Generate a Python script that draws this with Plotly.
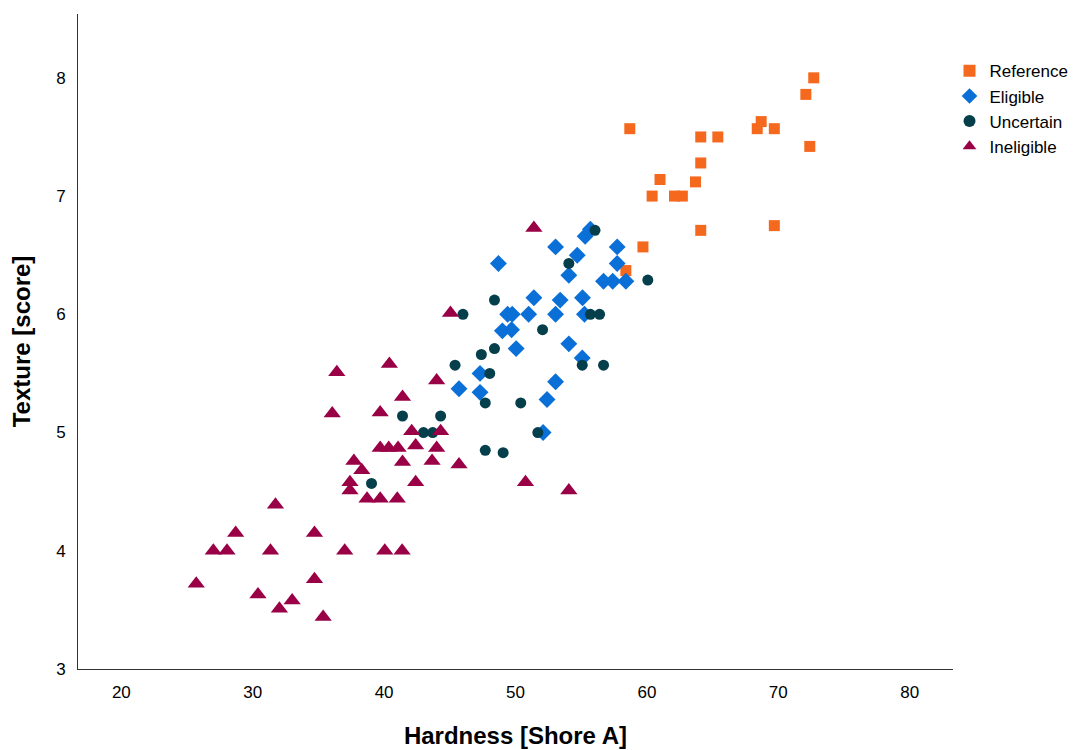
import plotly.graph_objects as go

# Reference (orange squares)
ref_x = [72.7, 72.1, 58.7, 68.7, 68.4, 69.7, 64.1, 65.4, 72.4, 64.1, 61.0, 63.7, 60.4, 62.1, 62.7, 64.1, 69.7, 59.7, 58.4]
ref_y = [8.00, 7.86, 7.57, 7.63, 7.57, 7.57, 7.50, 7.50, 7.42, 7.28, 7.14, 7.12, 7.00, 7.00, 7.00, 6.71, 6.75, 6.57, 6.37]

# Eligible (blue diamonds)
eli_x = [55.7, 55.3, 53.05, 57.74, 54.7, 48.7, 57.74, 54.06, 56.7, 57.4, 58.4, 51.4, 53.4, 55.1,
         49.4, 49.75, 51.0, 53.05, 55.25, 49.0, 49.7, 50.05, 54.06, 55.08, 47.3, 45.7, 47.3, 53.05, 52.4, 52.1]
eli_y = [6.72, 6.66, 6.57, 6.57, 6.50, 6.43, 6.43, 6.33, 6.28, 6.28, 6.28, 6.14, 6.12, 6.14,
         6.00, 6.00, 6.00, 6.00, 6.00, 5.86, 5.87, 5.71, 5.75, 5.63, 5.50, 5.37, 5.34, 5.43, 5.28, 5.00]

# Uncertain (dark circles)
unc_x = [56.05, 54.06, 60.07, 48.4, 46.0, 55.7, 56.4, 52.06, 48.4, 47.4, 45.4, 55.08, 56.7, 48.04,
         47.7, 50.4, 44.3, 41.4, 43.0, 43.7, 51.7, 47.7, 49.06, 39.04]
unc_y = [6.71, 6.43, 6.29, 6.12, 6.00, 6.00, 6.00, 5.87, 5.71, 5.66, 5.57, 5.57, 5.57, 5.50,
         5.25, 5.25, 5.14, 5.14, 5.00, 5.00, 5.00, 4.85, 4.83, 4.57]

# Ineligible (maroon triangles)
ine_x = [51.4, 45.05, 44.0, 44.3, 44.0, 43.65, 45.7, 36.4, 40.4, 41.4, 36.05, 39.7, 42.1,
         39.7, 40.35, 41.06, 42.4, 37.7, 41.4, 38.3, 37.4, 37.4, 42.4, 38.7, 39.7, 41.0,
         50.76, 54.06, 31.73, 28.7, 34.7, 27.0, 28.04, 31.35, 37.0, 40.05, 41.37,
         25.7, 34.7, 30.4, 33.0, 32.03, 35.36]
ine_y = [6.73, 6.01, 5.44, 5.01, 4.87, 4.76, 4.73, 5.51, 5.58, 5.30, 5.16, 5.17, 5.01,
         4.87, 4.87, 4.87, 4.89, 4.76, 4.75, 4.68, 4.58, 4.51, 4.58, 4.44, 4.44, 4.44,
         4.58, 4.51, 4.39, 4.15, 4.15, 4.00, 4.00, 4.00, 4.00, 4.00, 4.00,
         3.72, 3.76, 3.63, 3.58, 3.51, 3.44]

x_ticks = [20, 30, 40, 50, 60, 70, 80]
y_ticks = [3, 4, 5, 6, 7, 8]

fig = go.Figure()
fig.add_trace(go.Scatter(x=ref_x, y=ref_y, mode="markers", name="Reference",
                         marker=dict(symbol="square", size=11, color="#F5691F")))
fig.add_trace(go.Scatter(x=eli_x, y=eli_y, mode="markers", name="Eligible",
                         marker=dict(symbol="diamond", size=13, color="#0A70D8")))
fig.add_trace(go.Scatter(x=unc_x, y=unc_y, mode="markers", name="Uncertain",
                         marker=dict(symbol="circle", size=11, color="#053F4B")))
fig.add_trace(go.Scatter(x=ine_x, y=ine_y, mode="markers", name="Ineligible",
                         marker=dict(symbol="triangle-up", size=15, color="#9A0046")))

fig.update_layout(
    width=1071, height=742,
    margin=dict(l=70, r=126, t=6, b=81, autoexpand=False),
    paper_bgcolor="white", plot_bgcolor="white",
    font=dict(family="Liberation Sans, Arial, sans-serif", color="black"),
    showlegend=True,
    legend=dict(x=0.996, y=0.94, xanchor="left", yanchor="top",
                font=dict(size=17, family="Liberation Sans, Arial, sans-serif"),
                bgcolor="rgba(0,0,0,0)", itemsizing="constant", tracegroupgap=0),
)
fig.update_xaxes(
    range=[16.7, 83.3], tickvals=x_ticks, ticktext=[str(v) for v in x_ticks],
    showgrid=False, zeroline=False, showline=True, linecolor="#333333", linewidth=1,
    ticks="", tickfont=dict(size=17, family="Liberation Sans Narrow, Arial Narrow, Liberation Sans, sans-serif"),
    ticklabelstandoff=8, automargin=False,
    title=dict(text="<b>Hardness [Shore A]</b>", font=dict(size=24), standoff=25),
)
fig.update_yaxes(
    range=[3, 8.54], tickvals=y_ticks, ticktext=[str(v) for v in y_ticks],
    showgrid=False, zeroline=False, showline=True, linecolor="#333333", linewidth=1,
    ticks="", tickfont=dict(size=17), ticklabelstandoff=8, automargin=False,
    title=dict(text="<b>Texture [score]</b>", font=dict(size=24), standoff=20),
)

fig.write_html("out.html")
